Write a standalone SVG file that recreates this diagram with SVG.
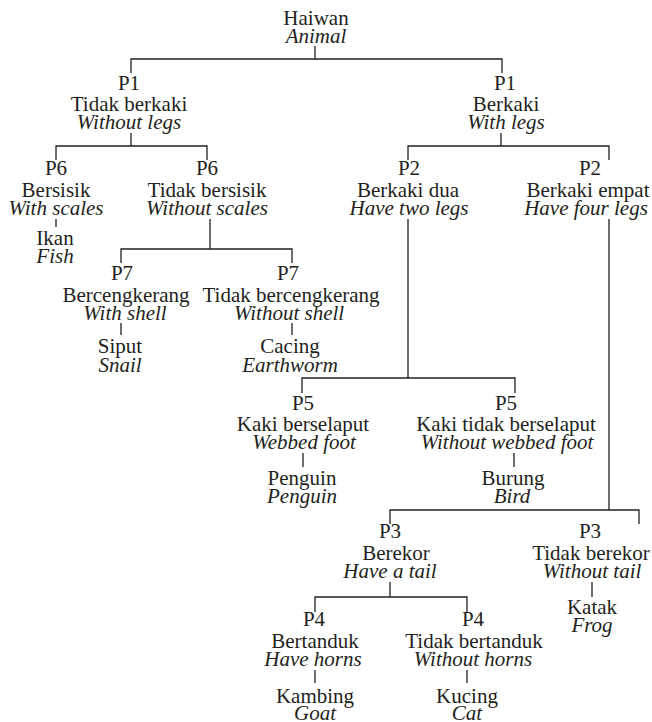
<svg xmlns="http://www.w3.org/2000/svg" width="652" height="722" viewBox="0 0 652 722">
<style>
.n text{font-size:21px;fill:#231f20;text-anchor:middle}
.i{font-style:italic}
.c path{fill:none;stroke:#231f20;stroke-width:1.3}
</style>
<rect width="652" height="722" fill="#fff"/>
<g class="c" id="connectors">
<path d="M315 46V59M131 73V59H502V73"/>
<path d="M131 133V146M56 160V146H207V160"/>
<path d="M501 133V146M408 160V146H609V160"/>
<path d="M56 219V227"/>
<path d="M210 219V249M121 263V249H292V263"/>
<path d="M121 323V335M292 323V335"/>
<path d="M408 219V378M302 393V378H515V393"/>
<path d="M303 453V467M514 453V467"/>
<path d="M609 219V510M390 524V510H639V524"/>
<path d="M390 582V597M315 612V597H467V612"/>
<path d="M592 582V597"/>
<path d="M315 670V683M467 670V683"/>
</g>
<g class="n" font-family="'Liberation Serif', 'Times New Roman', Tinos, 'DejaVu Serif', serif">
<g id="root"><text x="316" y="25">Haiwan</text><text class="i" x="316" y="43">Animal</text></g>
<g id="p1-left"><text x="129" y="90">P1</text><text x="129" y="111">Tidak berkaki</text><text class="i" x="129" y="129">Without legs</text></g>
<g id="p1-right"><text x="505" y="90">P1</text><text x="506" y="111">Berkaki</text><text class="i" x="506" y="129">With legs</text></g>
<g id="p6-left"><text x="56" y="175">P6</text><text x="56" y="197">Bersisik</text><text class="i" x="56" y="215">With scales</text></g>
<g id="ikan"><text x="55" y="245">Ikan</text><text class="i" x="55" y="263">Fish</text></g>
<g id="p6-right"><text x="207" y="175">P6</text><text x="207" y="197">Tidak bersisik</text><text class="i" x="207" y="215">Without scales</text></g>
<g id="p7-left"><text x="122" y="280">P7</text><text x="126" y="302">Bercengkerang</text><text class="i" x="125" y="320">With shell</text></g>
<g id="siput"><text x="120" y="353">Siput</text><text class="i" x="120" y="372">Snail</text></g>
<g id="p7-right"><text x="288" y="280">P7</text><text x="291" y="302">Tidak bercengkerang</text><text class="i" x="289" y="320">Without shell</text></g>
<g id="cacing"><text x="290" y="353">Cacing</text><text class="i" x="290" y="372">Earthworm</text></g>
<g id="p2-left"><text x="409" y="175">P2</text><text x="408" y="197">Berkaki dua</text><text class="i" x="409" y="215">Have two legs</text></g>
<g id="p2-right"><text x="590" y="175">P2</text><text x="588" y="197">Berkaki empat</text><text class="i" x="586" y="215">Have four legs</text></g>
<g id="p5-left"><text x="303" y="410">P5</text><text x="303" y="431">Kaki berselaput</text><text class="i" x="304" y="449">Webbed foot</text></g>
<g id="penguin"><text x="302" y="485">Penguin</text><text class="i" x="302" y="503">Penguin</text></g>
<g id="p5-right"><text x="506" y="410">P5</text><text x="506" y="431">Kaki tidak berselaput</text><text class="i" x="507" y="449">Without webbed foot</text></g>
<g id="burung"><text x="513" y="485">Burung</text><text class="i" x="512" y="503">Bird</text></g>
<g id="p3-left"><text x="390" y="538">P3</text><text x="396" y="560">Berekor</text><text class="i" x="390" y="578">Have a tail</text></g>
<g id="p3-right"><text x="590" y="538">P3</text><text x="591" y="560">Tidak berekor</text><text class="i" x="592" y="578">Without tail</text></g>
<g id="katak"><text x="592" y="614">Katak</text><text class="i" x="592" y="632">Frog</text></g>
<g id="p4-left"><text x="314" y="626">P4</text><text x="315" y="648">Bertanduk</text><text class="i" x="313" y="666">Have horns</text></g>
<g id="kambing"><text x="315" y="703">Kambing</text><text class="i" x="315" y="720">Goat</text></g>
<g id="p4-right"><text x="473" y="626">P4</text><text x="474" y="648">Tidak bertanduk</text><text class="i" x="473" y="666">Without horns</text></g>
<g id="kucing"><text x="467" y="703">Kucing</text><text class="i" x="467" y="720">Cat</text></g>
</g>
</svg>
